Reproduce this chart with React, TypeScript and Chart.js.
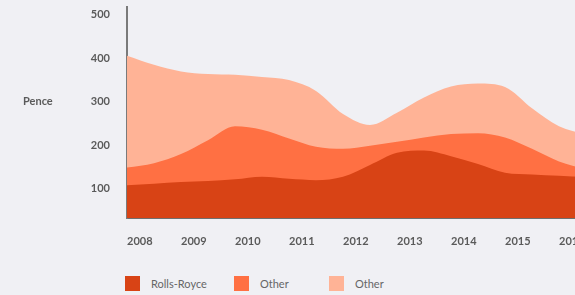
import React, { useEffect, useRef } from 'react';
import { Chart, registerables } from 'chart.js';

Chart.register(...registerables);

// Half-year sample points (years)
const timePoints = [2008, 2008.5, 2009, 2009.5, 2010, 2010.5, 2011, 2011.5, 2012, 2012.5, 2013, 2013.5, 2014, 2014.5, 2015, 2015.5, 2016, 2016.5];
// Top of each band, in pence
const rollsRoyce = [108, 112, 116, 118, 122, 128, 123, 120, 128, 155, 183, 188, 175, 157, 137, 133, 130, 127];
const otherA = [149, 159, 180, 212, 244, 236, 216, 197, 192, 199, 208, 218, 226, 228, 218, 192, 163, 145];
const otherB = [406, 385, 370, 364, 362, 357, 350, 325, 272, 247, 275, 310, 335, 342, 334, 285, 244, 225];

const yearLabels = ['2008', '2009', '2010', '2011', '2012', '2013', '2014', '2015', '2016'];
const yearTicks = [2008, 2009, 2010, 2011, 2012, 2013, 2014, 2015, 2016];
const yTicks = [100, 200, 300, 400, 500];
const seriesNames = ['Rolls-Royce', 'Other', 'Other'];
const seriesColors = ['#D84315', '#FF7043', '#FFB396'];
const yAxisTitle = 'Pence';

const FONT = 'Lato, "Open Sans", sans-serif';

const zeroPad = (scale: any) => {
  scale.paddingTop = 0;
  scale.paddingBottom = 0;
  scale.paddingLeft = 0;
  scale.paddingRight = 0;
};

export default function App() {
  const canvasRef = useRef<HTMLCanvasElement | null>(null);

  useEffect(() => {
    const canvas = canvasRef.current;
    if (!canvas) return;
    const seriesValues = [rollsRoyce, otherA, otherB];
    const pencePlugin = {
      id: 'penceTitle',
      afterDraw(chart: any) {
        const ctx = chart.ctx;
        const y = chart.scales.y.getPixelForValue(300);
        ctx.save();
        ctx.font = `bold 11px ${FONT}`;
        ctx.fillStyle = '#5a5a5a';
        ctx.textAlign = 'left';
        ctx.textBaseline = 'middle';
        ctx.fillText(yAxisTitle, 23, y);
        ctx.restore();
      },
    };
    const chart = new Chart(canvas, {
      type: 'line',
      data: {
        datasets: seriesValues.map((vals, i) => ({
          label: seriesNames[i],
          data: timePoints.map((t, j) => ({ x: t, y: vals[j] })),
          backgroundColor: seriesColors[i],
          borderColor: seriesColors[i],
          borderWidth: 0,
          pointRadius: 0,
          fill: 'start',
          cubicInterpolationMode: 'monotone' as const,
        })),
      },
      options: {
        responsive: false,
        animation: false,
        devicePixelRatio: 1,
        layout: { padding: { top: 7, left: 0, right: 0, bottom: 0 } },
        plugins: { legend: { display: false }, tooltip: { enabled: false } },
        scales: {
          x: {
            type: 'linear',
            min: 2008,
            max: 2016.5,
            grid: { display: false, drawTicks: false },
            border: { display: true, color: '#6f6f6f', width: 2 },
            afterBuildTicks: (scale: any) => {
              scale.ticks = yearTicks.map((v) => ({ value: v }));
            },
            afterFit: (scale: any) => {
              scale.height = 42;
              zeroPad(scale);
            },
            ticks: {
              align: 'start',
              padding: 17,
              autoSkip: false,
              maxRotation: 0,
              color: '#5a5a5a',
              font: { family: FONT, size: 11, weight: 'bold' },
              callback: (_v: any, idx: number) => yearLabels[idx],
            },
          },
          y: {
            type: 'linear',
            min: 33,
            max: 518,
            grid: { display: false, drawTicks: false },
            border: { display: true, color: '#7a7a7a', width: 2 },
            afterBuildTicks: (scale: any) => {
              scale.ticks = yTicks.map((v) => ({ value: v }));
            },
            afterFit: (scale: any) => {
              scale.width = 127;
              zeroPad(scale);
            },
            ticks: {
              padding: 17,
              color: '#5a5a5a',
              font: { family: FONT, size: 11, weight: 'bold' },
              callback: (v: any) => String(v),
            },
          },
        },
      },
      plugins: [pencePlugin],
    } as any);
    return () => chart.destroy();
  }, []);

  const legendX = [125, 234, 329];

  return (
    <div
      style={{
        position: 'fixed',
        left: 0,
        top: 0,
        width: 575,
        height: 295,
        overflow: 'hidden',
        background: '#F0F0F4',
      }}
    >
      <canvas ref={canvasRef} width={586} height={260} style={{ display: 'block', width: 586, height: 260 }} />
      {seriesNames.map((name, i) => (
        <div
          key={i}
          style={{
            position: 'absolute',
            left: legendX[i],
            top: 275,
            height: 16,
            display: 'flex',
            alignItems: 'center',
            fontFamily: FONT,
            fontSize: 11,
            color: '#666',
            whiteSpace: 'nowrap',
          }}
        >
          <span style={{ display: 'inline-block', width: 15, height: 15, background: seriesColors[i], marginRight: 11 }} />
          <span>{name}</span>
        </div>
      ))}
    </div>
  );
}
